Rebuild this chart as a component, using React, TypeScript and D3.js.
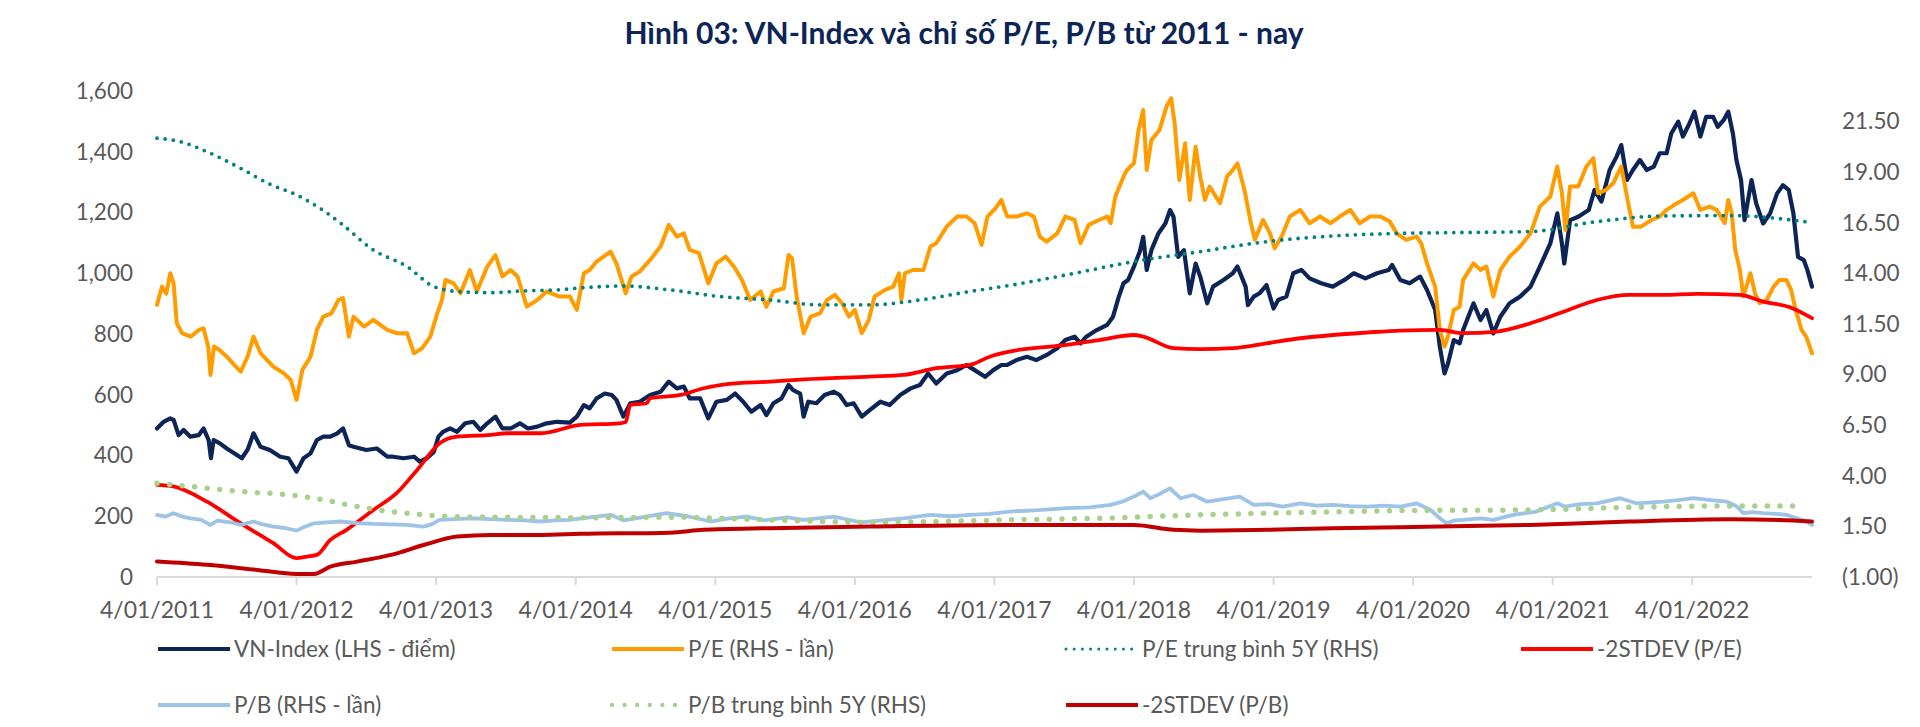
import { format, line, curveLinear, curveMonotoneX, scaleLinear } from "d3";

// x values: months after 4/01/2011
const yearLabels = [
  "4/01/2011", "4/01/2012", "4/01/2013", "4/01/2014", "4/01/2015", "4/01/2016",
  "4/01/2017", "4/01/2018", "4/01/2019", "4/01/2020", "4/01/2021", "4/01/2022",
];
const leftTicks = [0, 200, 400, 600, 800, 1000, 1200, 1400, 1600];
const rightTicks = [-1, 1.5, 4, 6.5, 9, 11.5, 14, 16.5, 19, 21.5];
const lastMonth = 142.3;

type Pt = [number, number];

const vnIndex: Pt[] = [
  [0, 489], [0.57, 511], [1.14, 522], [1.43, 517], [1.86, 467], [2.29, 484], [2.87, 462], [3.58, 467],
  [4.0, 489], [4.44, 451], [4.64, 391], [4.87, 451], [5.4, 440], [6.0, 423], [6.9, 401], [7.3, 391],
  [7.8, 420], [8.3, 473], [8.9, 429], [9.7, 418], [10.6, 396], [11.3, 391], [12.0, 347], [12.6, 391],
  [13.2, 407], [13.75, 451], [14.3, 462], [14.9, 462], [15.5, 473], [16.0, 489], [16.5, 434], [16.9, 429],
  [18.0, 418], [18.9, 423], [19.8, 396], [20.3, 396], [21.2, 391], [22.1, 396], [22.6, 380], [23.2, 391],
  [23.8, 412], [24.2, 462], [24.6, 478], [25.2, 489], [25.8, 478], [26.5, 506], [27.2, 511], [27.8, 484],
  [28.4, 506], [29.1, 528], [29.7, 489], [30.4, 489], [31.2, 506], [31.9, 489], [32.7, 495], [33.5, 506],
  [34.4, 511], [35.5, 508], [36.1, 528], [36.7, 566], [37.2, 555], [37.8, 588], [38.5, 604], [39.1, 599],
  [39.5, 583], [40.1, 528], [40.7, 572], [41.5, 577], [42.4, 599], [43.3, 610], [44.0, 643], [44.7, 621],
  [45.3, 627], [45.8, 588], [46.7, 588], [47.4, 522], [48.1, 577], [49.0, 583], [49.7, 604], [50.4, 577],
  [51.1, 544], [51.9, 566], [52.4, 533], [53.0, 572], [53.7, 588], [54.3, 632], [54.7, 615], [55.3, 604],
  [55.6, 528], [56.0, 577], [56.7, 572], [57.4, 599], [58.2, 610], [58.7, 599], [59.3, 566], [59.9, 572],
  [60.6, 528], [61.3, 550], [62.2, 577], [63.0, 566], [63.9, 599], [64.8, 621], [65.6, 632], [66.3, 670],
  [67.0, 637], [67.9, 670], [68.8, 681], [69.6, 698], [70.3, 681], [71.2, 659], [71.9, 681], [72.6, 698],
  [73.1, 698], [73.9, 714], [74.8, 725], [75.6, 714], [76.5, 731], [77.4, 753], [78.1, 780], [78.9, 791],
  [79.4, 769], [79.9, 791], [80.8, 813], [81.7, 830], [82.2, 857], [82.7, 923], [83.1, 967], [83.5, 978],
  [84.0, 1022], [84.5, 1071], [84.8, 1120], [85.1, 1011], [85.5, 1076], [86.1, 1131], [86.7, 1164], [87.1, 1208],
  [87.4, 1186], [87.8, 1054], [88.3, 1076], [88.8, 934], [89.3, 1032], [89.7, 989], [90.3, 901], [90.8, 956],
  [91.7, 978], [92.5, 1000], [92.9, 1022], [93.6, 956], [93.8, 895], [94.3, 923], [94.8, 934], [95.4, 961],
  [96.0, 884], [96.4, 912], [97.1, 923], [97.7, 1000], [98.4, 1011], [99.1, 983], [100.1, 967], [101.1, 956],
  [102.1, 978], [102.9, 1000], [103.9, 983], [104.9, 1000], [105.9, 1011], [106.2, 1027], [106.9, 978], [107.7, 967],
  [108.6, 989], [109.2, 945], [109.9, 879], [110.3, 758], [110.7, 670], [111.0, 703], [111.5, 780], [112.0, 769],
  [112.3, 813], [113.2, 901], [113.8, 846], [114.3, 879], [114.9, 802], [115.5, 857], [116.3, 901], [117.2, 923],
  [118.1, 956], [118.9, 1022], [119.8, 1098], [120.4, 1197], [120.8, 1098], [121.0, 1032], [121.5, 1175], [122.2, 1186],
  [123.1, 1208], [123.6, 1274], [124.2, 1236], [124.9, 1340], [125.5, 1384], [125.9, 1422], [126.4, 1307], [126.9, 1340],
  [127.5, 1373], [128.1, 1340], [128.7, 1351], [129.2, 1395], [129.8, 1395], [130.2, 1460], [130.8, 1499], [131.2, 1450],
  [131.7, 1488], [132.2, 1532], [132.7, 1450], [133.2, 1515], [133.8, 1515], [134.2, 1482], [134.7, 1504], [135.1, 1532],
  [135.5, 1460], [135.8, 1373], [136.2, 1307], [136.5, 1175], [137.1, 1307], [137.5, 1230], [138.1, 1164], [138.7, 1197],
  [139.3, 1263], [139.8, 1290], [140.3, 1274], [140.7, 1197], [141.1, 1054], [141.6, 1043], [141.9, 1011], [142.3, 956],
];

const peRatio: Pt[] = [
  [0, 12.44], [0.43, 13.34], [0.8, 12.99], [1.14, 14.0], [1.43, 13.5], [1.7, 11.53], [2.15, 11.04], [2.9, 10.87],
  [3.6, 11.2], [4.0, 11.28], [4.4, 10.38], [4.6, 8.98], [4.9, 10.38], [5.4, 10.2], [6.0, 9.88], [6.6, 9.5],
  [7.2, 9.14], [7.8, 9.9], [8.3, 10.87], [8.9, 10.05], [10.0, 9.39], [10.9, 9.06], [11.5, 8.73], [12.0, 7.75],
  [12.5, 9.23], [13.2, 9.88], [13.75, 11.2], [14.3, 11.86], [15.0, 12.02], [15.6, 12.68], [16.0, 12.77], [16.5, 10.87],
  [16.9, 11.86], [17.8, 11.37], [18.6, 11.7], [19.8, 11.2], [20.6, 11.04], [21.5, 11.04], [22.1, 10.05], [22.8, 10.3],
  [23.5, 10.87], [24.1, 12.02], [24.5, 12.68], [24.8, 13.67], [25.5, 13.5], [26.1, 13.01], [26.9, 14.16], [27.5, 13.1],
  [28.4, 14.33], [29.1, 14.9], [29.7, 13.84], [30.4, 14.16], [31.0, 13.84], [31.8, 12.35], [32.7, 12.68], [33.5, 13.1],
  [34.6, 12.85], [35.5, 12.85], [36.1, 12.19], [36.7, 14.0], [37.2, 14.16], [37.8, 14.58], [38.4, 14.82], [39.0, 15.07],
  [39.5, 14.49], [40.3, 13.01], [40.8, 13.84], [41.5, 14.08], [42.4, 14.66], [43.3, 15.32], [44.0, 16.39], [44.7, 15.81],
  [45.3, 15.97], [45.8, 15.15], [46.6, 14.99], [47.4, 13.5], [48.1, 14.49], [48.9, 14.82], [49.6, 14.33], [50.3, 13.67],
  [51.0, 12.68], [51.9, 13.1], [52.4, 12.35], [53.0, 13.1], [53.9, 13.26], [54.3, 14.9], [54.6, 14.74], [55.0, 12.85],
  [55.6, 11.04], [56.2, 11.86], [57.0, 12.02], [57.6, 12.68], [58.3, 12.93], [58.9, 12.52], [59.5, 11.86], [60.0, 12.19],
  [60.6, 11.04], [61.2, 11.7], [61.7, 12.85], [62.6, 13.18], [63.3, 13.34], [63.8, 14.0], [64.0, 12.68], [64.3, 14.0],
  [65.0, 14.16], [65.9, 14.16], [66.5, 15.32], [67.0, 15.48], [67.9, 16.3], [68.8, 16.8], [69.6, 16.8], [70.3, 16.47],
  [70.9, 15.4], [71.4, 16.8], [72.1, 17.21], [72.6, 17.62], [73.1, 16.8], [73.9, 16.8], [74.8, 16.96], [75.4, 16.8],
  [75.9, 15.81], [76.5, 15.56], [77.4, 15.97], [78.1, 16.8], [78.9, 16.63], [79.4, 15.48], [80.1, 16.39], [81.0, 16.63],
  [81.7, 16.8], [82.0, 16.47], [82.4, 17.79], [83.1, 18.77], [83.4, 19.1], [84.0, 19.43], [84.4, 21.08], [84.8, 22.06],
  [85.1, 19.1], [85.5, 20.58], [86.2, 21.08], [86.8, 22.23], [87.2, 22.64], [87.5, 21.41], [87.9, 18.61], [88.4, 20.42],
  [88.8, 17.62], [89.3, 20.25], [89.7, 18.77], [90.1, 17.62], [90.5, 18.28], [91.4, 17.46], [92.0, 18.77], [92.5, 19.1],
  [92.9, 19.43], [93.5, 18.12], [94.0, 16.63], [94.4, 15.65], [95.1, 16.63], [95.7, 15.97], [96.1, 15.23], [96.7, 15.81],
  [97.4, 16.8], [98.3, 17.13], [99.1, 16.47], [100.0, 16.8], [100.9, 16.47], [101.7, 16.8], [102.6, 17.13], [103.4, 16.47],
  [104.3, 16.8], [105.2, 16.8], [106.0, 16.55], [106.6, 15.97], [107.4, 15.65], [108.3, 15.81], [108.7, 15.48], [109.2, 14.49],
  [109.9, 13.34], [110.3, 11.2], [110.7, 10.38], [111.0, 10.87], [111.5, 12.19], [112.0, 12.35], [112.3, 13.67], [113.2, 14.49],
  [113.8, 14.16], [114.3, 14.33], [114.9, 12.85], [115.5, 14.16], [116.3, 14.82], [117.2, 15.32], [118.1, 15.97], [118.9, 17.29],
  [119.8, 17.79], [120.4, 19.27], [120.8, 17.95], [121.1, 16.14], [121.5, 18.28], [122.2, 18.28], [122.9, 19.27], [123.5, 19.68],
  [123.9, 17.95], [124.6, 18.12], [125.2, 18.44], [125.9, 19.27], [126.5, 17.46], [126.9, 16.3], [127.6, 16.3], [128.5, 16.63],
  [129.2, 16.8], [129.8, 17.13], [130.7, 17.46], [131.2, 17.62], [132.1, 17.95], [132.7, 17.13], [133.5, 17.29], [134.1, 17.13],
  [134.8, 16.47], [135.1, 17.62], [135.4, 16.96], [135.7, 15.15], [136.1, 14.16], [136.4, 12.85], [137.0, 14.0], [137.4, 13.01],
  [137.8, 12.52], [138.4, 12.68], [139.0, 13.34], [139.5, 13.67], [140.1, 13.67], [140.5, 13.18], [140.9, 12.19], [141.4, 11.2],
  [141.8, 10.87], [142.3, 10.05],
];

const peAvg5y: Pt[] = [
  [0, 20.67], [2, 20.5], [4.3, 20.0], [7.2, 19.18], [9.7, 18.4], [12, 17.87], [14.3, 17.1], [15.8, 16.47],
  [18.6, 15.15], [21.5, 14.33], [23.8, 13.34], [25.8, 13.1], [28.7, 13.04], [31.5, 13.13], [34.4, 13.18], [37, 13.3],
  [40.1, 13.37], [44.1, 13.18], [48.4, 12.85], [52.7, 12.68], [57.0, 12.44], [61.3, 12.44], [65.6, 12.68], [69.9, 13.1],
  [73.3, 13.4], [78.2, 13.92], [84, 14.58], [89.7, 15.07], [95.4, 15.56], [101.1, 15.84], [106.9, 15.97], [110.3, 16.0],
  [118.1, 16.06], [123.8, 16.55], [129.5, 16.83], [135.2, 16.85], [142.3, 16.5],
];

const peMinus2sd: Pt[] = [
  [0, 3.55], [1.4, 3.47], [4.3, 2.72], [7.2, 1.65], [10, 0.67], [12, -0.07], [12.9, 0.01], [13.75, 0.09],
  [14.9, 0.83], [16.3, 1.33], [18.6, 2.31], [20.6, 3.14], [22.6, 4.45], [24.3, 5.6], [25.8, 5.93], [28.7, 6.02],
  [30.1, 6.1], [33.0, 6.1], [36.4, 6.51], [39.8, 6.59], [40.3, 6.65], [40.7, 7.5], [42.1, 7.58], [42.4, 7.83],
  [45, 7.99], [47, 8.32], [49, 8.53], [52.7, 8.65], [55.6, 8.76], [61.3, 8.9], [64.2, 8.98], [67.0, 9.31],
  [69.9, 9.47], [71.6, 9.88], [73.3, 10.13], [78.2, 10.46], [81.1, 10.71], [84, 10.95], [84.8, 10.87], [87.4, 10.3],
  [89.7, 10.25], [92.5, 10.3], [95.4, 10.54], [98.3, 10.79], [101.1, 10.95], [104, 11.07], [106.9, 11.17], [110.3, 11.2],
  [112.3, 11.04], [115.2, 11.12], [118.1, 11.53], [121, 12.11], [123.8, 12.68], [126.6, 12.93], [129.5, 12.93], [132.4, 12.98],
  [136.1, 12.93], [138.1, 12.6], [140.4, 12.32], [142.3, 11.78],
];

const pbRatio: Pt[] = [
  [0, 2.07], [0.7, 1.98], [1.4, 2.15], [2.2, 1.98], [2.9, 1.9], [3.8, 1.82], [4.6, 1.57], [5.2, 1.78],
  [5.8, 1.74], [6.5, 1.68], [7.2, 1.57], [8.3, 1.74], [9.1, 1.6], [10, 1.49], [11, 1.42], [12, 1.29],
  [12.7, 1.48], [13.5, 1.65], [14.6, 1.7], [15.8, 1.74], [17.2, 1.66], [18.6, 1.62], [20, 1.6], [21.5, 1.57],
  [22.9, 1.49], [23.6, 1.6], [24.3, 1.82], [25.6, 1.86], [27.2, 1.9], [28.6, 1.86], [30.1, 1.82], [31.6, 1.8],
  [33, 1.74], [34.3, 1.8], [35.5, 1.82], [37.2, 1.94], [39, 2.07], [40.1, 1.8], [41.8, 1.96], [43.8, 2.15],
  [45.6, 2.0], [47.6, 1.74], [49.2, 1.9], [50.7, 1.98], [52.2, 1.8], [54.2, 1.95], [55.6, 1.82], [58.2, 1.98],
  [59.4, 1.84], [60.5, 1.7], [62.3, 1.8], [64.2, 1.9], [66.5, 2.07], [68.2, 2.0], [69.9, 2.07], [71.6, 2.12],
  [73.3, 2.23], [75.8, 2.3], [78.2, 2.4], [80.2, 2.44], [82, 2.56], [83, 2.72], [84, 2.97], [84.8, 3.22],
  [85.4, 2.89], [86.2, 3.1], [87.1, 3.38], [88, 2.89], [89.1, 3.05], [90.3, 2.72], [91.7, 2.85], [93.1, 2.97],
  [94.3, 2.56], [95.6, 2.6], [96.8, 2.48], [98.3, 2.64], [99.7, 2.52], [101.1, 2.56], [102.6, 2.5], [104, 2.48],
  [105.5, 2.52], [106.9, 2.48], [108.3, 2.64], [109.5, 2.31], [110.3, 1.9], [110.9, 1.65], [111.6, 1.8], [112.3, 1.82],
  [113.8, 1.9], [114.9, 1.82], [116.6, 2.07], [118.6, 2.23], [120.4, 2.64], [121, 2.48], [122.4, 2.6], [123.8, 2.64],
  [125.8, 2.89], [127.2, 2.64], [129.5, 2.72], [130.8, 2.8], [132.1, 2.89], [133.6, 2.8], [135, 2.72], [135.8, 2.5],
  [136.4, 2.15], [137.2, 2.2], [138.1, 2.15], [139.2, 2.12], [140.1, 2.07], [141, 1.9], [141.8, 1.75], [142.3, 1.57],
];

const pbAvg5y: Pt[] = [
  [0, 3.63], [2.9, 3.47], [7.2, 3.22], [11.5, 3.05], [14.3, 2.81], [17.2, 2.48], [20.1, 2.23], [23, 2.07],
  [25.8, 1.98], [30.1, 1.95], [36.4, 1.93], [44.1, 1.95], [52.7, 1.82], [61.3, 1.7], [67, 1.74], [73.3, 1.82],
  [81.1, 1.9], [89.7, 2.07], [98.3, 2.18], [106.9, 2.28], [118.1, 2.31], [126.6, 2.44], [135.2, 2.51], [141.6, 2.51],
];

const pbMinus2sd: Pt[] = [
  [0, -0.24], [4.3, -0.4], [8.6, -0.65], [12, -0.85], [13.5, -0.85], [14.9, -0.49], [17.2, -0.24], [20.1, 0.09],
  [23, 0.59], [25.8, 1.0], [28.7, 1.08], [33, 1.08], [36.4, 1.13], [44.1, 1.19], [47, 1.33], [52.7, 1.41],
  [61.3, 1.49], [73.3, 1.57], [84, 1.57], [87.4, 1.33], [89.7, 1.29], [95.4, 1.33], [101.1, 1.41], [106.9, 1.46],
  [110.3, 1.49], [118.1, 1.57], [126.6, 1.74], [135.2, 1.85], [139.5, 1.82], [142.3, 1.74],
];

const W = 1920;
const H = 727;
const plot = { left: 157, right: 1812, top: 91, bottom: 577 };
const font = "Lato, 'Open Sans', sans-serif";
const grey = "#595959";

type Series = {
  name: string;
  data: Pt[];
  color: string;
  width: number;
  dash?: string;
  axis: "left" | "right";
  smooth?: boolean;
  col: number;
  row: number;
};

const series: Series[] = [
  { name: "VN-Index (LHS - điểm)", data: vnIndex, color: "#0D2456", width: 4.2, axis: "left", col: 0, row: 0 },
  { name: "P/E (RHS - lần)", data: peRatio, color: "#FF9C00", width: 4, axis: "right", col: 1, row: 0 },
  { name: "P/E trung bình 5Y (RHS)", data: peAvg5y, color: "#00827F", width: 3.8, dash: "0 8.2", axis: "right", smooth: true, col: 2, row: 0 },
  { name: "-2STDEV (P/E)", data: peMinus2sd, color: "#FF0000", width: 3.8, axis: "right", smooth: true, col: 3, row: 0 },
  { name: "P/B (RHS - lần)", data: pbRatio, color: "#9DC3E6", width: 3.8, axis: "right", col: 0, row: 1 },
  { name: "P/B trung bình 5Y (RHS)", data: pbAvg5y, color: "#A9D18E", width: 5.5, dash: "0 12.6", axis: "right", smooth: true, col: 1, row: 1 },
  { name: "-2STDEV (P/B)", data: pbMinus2sd, color: "#C00000", width: 4, axis: "right", smooth: true, col: 2, row: 1 },
];

const legendCols = [158, 612, 1066, 1521];
const legendRows = [649, 705];

export default function App() {
  const x = scaleLinear().domain([0, lastMonth]).range([plot.left, plot.right]);
  const yLeft = scaleLinear().domain([0, 1600]).range([plot.bottom, plot.top]);
  const yRight = scaleLinear().domain([-1, 23]).range([plot.bottom, plot.top]);

  const fmtLeft = format(",");
  const fmtRight = (v: number) => (v < 0 ? `(${Math.abs(v).toFixed(2)})` : v.toFixed(2));

  return (
    <svg
      width={W}
      height={H}
      viewBox={`0 0 ${W} ${H}`}
      style={{ position: "absolute", left: 0, top: 0, background: "#fff" }}
      fontFamily={font}
    >
      <text x={964} y={44} textAnchor="middle" fontSize={30} fontWeight={700} fill="#0D2456">
        Hình 03: VN-Index và chỉ số P/E, P/B từ 2011 - nay
      </text>

      {/* left axis labels */}
      {leftTicks.map((t) => (
        <text key={`l${t}`} x={133} y={yLeft(t)} dy="0.35em" textAnchor="end" fontSize={22.5} fill={grey}>
          {fmtLeft(t)}
        </text>
      ))}

      {/* right axis labels */}
      {rightTicks.map((t) => (
        <text key={`r${t}`} x={1842} y={yRight(t)} dy="0.35em" fontSize={22.5} fill={grey}>
          {fmtRight(t)}
        </text>
      ))}

      {/* x axis */}
      <line x1={plot.left} x2={plot.right} y1={plot.bottom} y2={plot.bottom} stroke="#D9D9D9" strokeWidth={2} />
      {yearLabels.map((label, i) => (
        <g key={label}>
          <line x1={x(i * 12)} x2={x(i * 12)} y1={plot.bottom} y2={plot.bottom + 8} stroke="#D9D9D9" strokeWidth={2} />
          <text x={x(i * 12)} y={618} textAnchor="middle" fontSize={23} fill={grey}>
            {label}
          </text>
        </g>
      ))}

      {/* series */}
      {series.map((s) => {
        const y = s.axis === "left" ? yLeft : yRight;
        const path = line<Pt>()
          .x((d) => x(d[0]))
          .y((d) => y(d[1]))
          .curve(s.smooth ? curveMonotoneX : curveLinear);
        return (
          <path
            key={s.name}
            d={path(s.data) ?? ""}
            fill="none"
            stroke={s.color}
            strokeWidth={s.width}
            strokeDasharray={s.dash}
            strokeLinecap="round"
            strokeLinejoin="round"
          />
        );
      })}

      {/* legend */}
      {series.map((s) => {
        const lx = legendCols[s.col];
        const ly = legendRows[s.row];
        return (
          <g key={`lg-${s.name}`}>
            <line
              x1={lx}
              x2={lx + 72}
              y1={ly}
              y2={ly}
              stroke={s.color}
              strokeWidth={s.dash ? s.width * 0.8 : 4}
              strokeDasharray={s.dash}
              strokeLinecap={s.dash ? "round" : "butt"}
            />
            <text x={lx + 76} y={ly} dy="0.35em" fontSize={22.5} fill={grey}>
              {s.name}
            </text>
          </g>
        );
      })}
    </svg>
  );
}
